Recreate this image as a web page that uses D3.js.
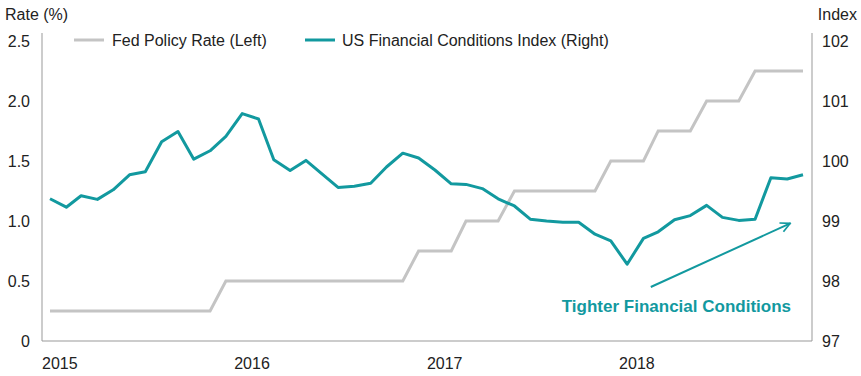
<!DOCTYPE html>
<html>
<head>
<meta charset="utf-8">
<script src="https://cdn.jsdelivr.net/npm/d3@7"></script>
<style>
  body { margin: 0; background: #fff; }
  text { font-family: "Liberation Sans", Arial, sans-serif; fill: #222; }
</style>
</head>
<body>
<div id="chart"></div>
<script>
// monthly data, Jan 2015 - Dec 2018
var years = ["2015", "2016", "2017", "2018"];
var leftTicks = [0, 0.5, 1.0, 1.5, 2.0, 2.5];
var rightTicks = [97, 98, 99, 100, 101, 102];

var fedRate = [
    0.25, 0.25, 0.25, 0.25, 0.25, 0.25, 0.25, 0.25, 0.25, 0.25, 0.25, 0.5,
    0.5, 0.5, 0.5, 0.5, 0.5, 0.5, 0.5, 0.5, 0.5, 0.5, 0.5, 0.75,
    0.75, 0.75, 1.0, 1.0, 1.0, 1.25, 1.25, 1.25, 1.25, 1.25, 1.25, 1.5,
    1.5, 1.5, 1.75, 1.75, 1.75, 2.0, 2.0, 2.0, 2.25, 2.25, 2.25, 2.25
];

var fciIndex = [
    99.37, 99.23, 99.42, 99.36, 99.52, 99.77, 99.82, 100.32, 100.49, 100.03, 100.17, 100.41,
    100.79, 100.70, 100.02, 99.84, 100.01, 99.78, 99.56, 99.58, 99.63, 99.90, 100.13, 100.05,
    99.85, 99.62, 99.61, 99.54, 99.37, 99.25, 99.03, 99.00, 98.98, 98.98, 98.78, 98.67,
    98.28, 98.71, 98.82, 99.02, 99.09, 99.26, 99.06, 99.01, 99.03, 99.72, 99.70, 99.77
];

var width = 861;
var height = 376;
var teal = "#12999f";
var grey = "#c4c4c4";

var months = d3.timeMonth.range(new Date(2015, 0, 1), new Date(2019, 0, 1));

var x_scale = d3.scaleTime()
    .domain([months[0], months[months.length - 1]])
    .range([50, 803]);

var y_left = d3.scaleLinear()
    .domain([0, 2.566])
    .range([341, 33]);

var y_right = d3.scaleLinear()
    .domain([97, 102.133])
    .range([341, 33]);

var svg = d3.select('#chart')
    .append('svg')
    .attr('width', width)
    .attr('height', height);

var axisColor = "#999";
var x0 = 42, x1 = 812;

// axis lines
svg.append('line')
    .attr('x1', x0).attr('x2', x0)
    .attr('y1', y_left.range()[1]).attr('y2', y_left(0))
    .attr('stroke', axisColor).attr('stroke-width', 1);
svg.append('line')
    .attr('x1', x1).attr('x2', x1)
    .attr('y1', y_right.range()[1]).attr('y2', y_right(97))
    .attr('stroke', axisColor).attr('stroke-width', 1);
svg.append('line')
    .attr('x1', x0).attr('x2', x1)
    .attr('y1', y_left(0)).attr('y2', y_left(0))
    .attr('stroke', axisColor).attr('stroke-width', 1);

// left tick labels
svg.selectAll('.lt')
    .data(leftTicks)
    .enter().append('text')
    .attr('class', 'lt')
    .attr('x', 30)
    .attr('y', function(d) { return y_left(d); })
    .attr('dy', '0.35em')
    .attr('text-anchor', 'end')
    .style('font-size', '16px')
    .text(function(d) { return d === 0 ? "0" : d3.format(".1f")(d); });

// right tick labels
svg.selectAll('.rt')
    .data(rightTicks)
    .enter().append('text')
    .attr('class', 'rt')
    .attr('x', 822)
    .attr('y', function(d) { return y_right(d); })
    .attr('dy', '0.35em')
    .style('font-size', '16px')
    .text(function(d) { return d; });

// year labels
svg.selectAll('.yr')
    .data(years)
    .enter().append('text')
    .attr('class', 'yr')
    .attr('x', function(d) { return x_scale(new Date(+d, 0, 1)) - 8; })
    .attr('y', 363)
    .attr('dy', '0.35em')
    .style('font-size', '16px')
    .text(function(d) { return d; });

// axis titles
svg.append('text')
    .attr('x', 5).attr('y', 14).attr('dy', '0.35em')
    .style('font-size', '16px')
    .text('Rate (%)');
svg.append('text')
    .attr('x', 857).attr('y', 14).attr('dy', '0.35em')
    .attr('text-anchor', 'end')
    .style('font-size', '16px')
    .text('Index');

// lines
var fedLine = d3.line()
    .x(function(d, i) { return x_scale(months[i]); })
    .y(function(d) { return y_left(d); });

var fciLine = d3.line()
    .x(function(d, i) { return x_scale(months[i]); })
    .y(function(d) { return y_right(d); });

svg.append('path')
    .datum(fedRate)
    .attr('fill', 'none')
    .attr('stroke', grey)
    .attr('stroke-width', 3)
    .attr('d', fedLine);

svg.append('path')
    .datum(fciIndex)
    .attr('fill', 'none')
    .attr('stroke', teal)
    .attr('stroke-width', 3)
    .attr('stroke-linejoin', 'round')
    .attr('d', fciLine);

// legend
var legend = svg.append('g').attr('class', 'legend');
legend.append('line')
    .attr('x1', 74).attr('x2', 104).attr('y1', 40).attr('y2', 40)
    .attr('stroke', grey).attr('stroke-width', 3);
legend.append('text')
    .attr('x', 112).attr('y', 40).attr('dy', '0.35em')
    .style('font-size', '16px')
    .text('Fed Policy Rate (Left)');
legend.append('line')
    .attr('x1', 305).attr('x2', 335).attr('y1', 40).attr('y2', 40)
    .attr('stroke', teal).attr('stroke-width', 3);
legend.append('text')
    .attr('x', 342).attr('y', 40).attr('dy', '0.35em')
    .style('font-size', '16px')
    .text('US Financial Conditions Index (Right)');

// annotation arrow (in data units: month index, index value)
var arrowFrom = [37.5, 97.9];
var arrowTo = [46.2, 98.96];
function ax(m) { return d3.scaleLinear().domain([0, 47]).range(x_scale.range())(m); }

svg.append('defs').append('marker')
    .attr('id', 'head')
    .attr('viewBox', '0 0 10 10')
    .attr('refX', 9).attr('refY', 5)
    .attr('markerWidth', 6).attr('markerHeight', 6)
    .attr('orient', 'auto')
    .append('path')
    .attr('d', 'M1,1 L9,5 L1,9')
    .attr('fill', 'none')
    .attr('stroke', teal)
    .attr('stroke-width', 1.4);

svg.append('line')
    .attr('x1', ax(arrowFrom[0])).attr('y1', y_right(arrowFrom[1]))
    .attr('x2', ax(arrowTo[0])).attr('y2', y_right(arrowTo[1]))
    .attr('stroke', teal)
    .attr('stroke-width', 2)
    .attr('marker-end', 'url(#head)');

svg.append('text')
    .attr('x', 791).attr('y', 306).attr('dy', '0.35em')
    .attr('text-anchor', 'end')
    .style('font-size', '17px')
    .style('font-weight', 'bold')
    .style('fill', teal)
    .text('Tighter Financial Conditions');
</script>
</body>
</html>
